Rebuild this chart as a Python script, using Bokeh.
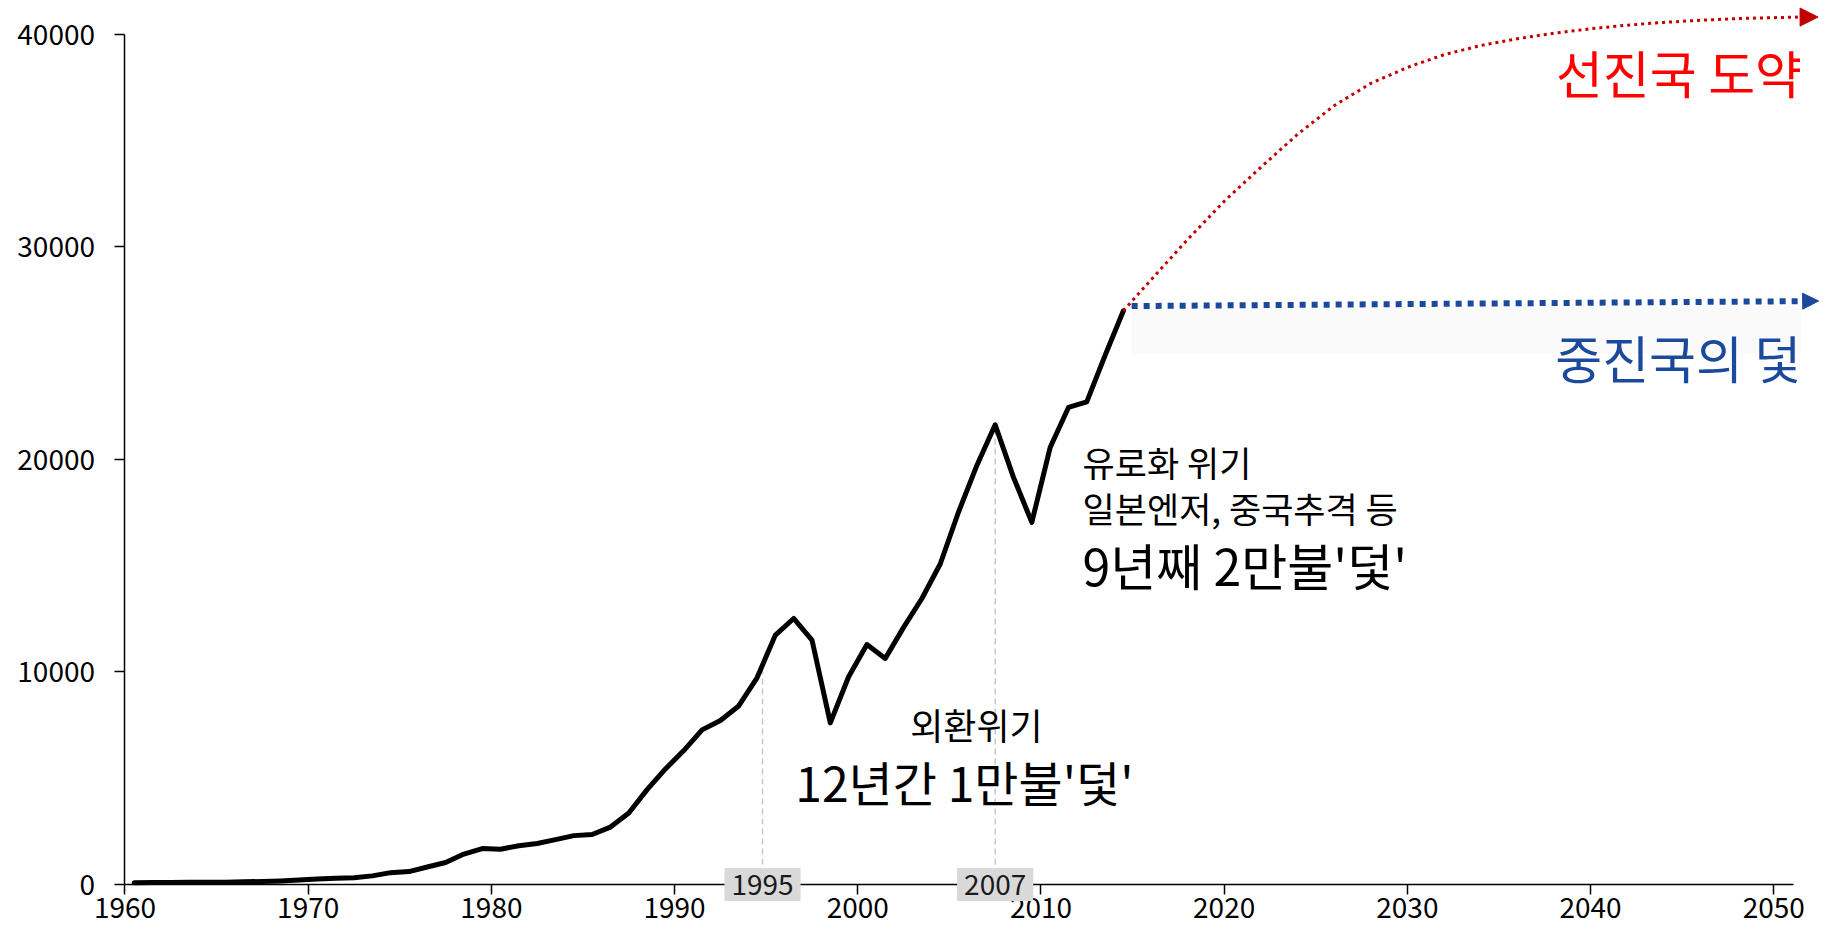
import numpy as np
from bokeh.plotting import figure
from bokeh.models import Label, Arrow, NormalHead, FixedTicker, Range1d, BoxAnnotation
from bokeh.embed import file_html
from bokeh.resources import INLINE

# ---------------- data ----------------
years = list(range(1960, 2015))
gni_per_capita = [79, 93, 91, 100, 103, 105, 125, 142, 169, 210,
                  254, 291, 322, 406, 557, 608, 824, 1034, 1431, 1693,
                  1660, 1826, 1927, 2113, 2300, 2355, 2702, 3367, 4465, 5438,
                  6303, 7276, 7714, 8402, 9727, 11735, 12518, 11505, 7607, 9778,
                  11292, 10631, 12100, 13460, 15082, 17531, 19722, 21632, 19161, 17041,
                  20562, 22451, 22708, 24900, 27000]

# scenario: advanced economy
adv_years = [2014.5, 2016, 2018, 2020, 2022, 2024, 2026, 2028, 2030, 2032,
             2034, 2036, 2038, 2040, 2042, 2044, 2046, 2048, 2051.4]
adv_values = [27000, 28450, 30350, 32150, 33750, 35300, 36650, 37700, 38450, 39050,
              39480, 39800, 40060, 40270, 40440, 40570, 40670, 40750, 40820]
adv_tip = (2052.42, 40820)

# scenario: middle-income trap
trap_years = [2014.95, 2051.5]
trap_values = [27220, 27450]
trap_tip = (2052.45, 27460)

crisis_labels = ["1995", "2007"]
crisis_x = [1994.8, 2007.5]

x_ticks = [1960, 1970, 1980, 1990, 2000, 2010, 2020, 2030, 2040, 2050]
y_ticks = [0, 10000, 20000, 30000, 40000]

FONT = "Noto Sans CJK KR"

# ---------------- figure ----------------
p = figure(width=1824, height=936,
           x_range=Range1d(1953.204, 2052.77), y_range=Range1d(-2259, 41600),
           output_backend="svg", toolbar_location=None,
           min_border=0, min_border_left=0, min_border_bottom=4,
           min_border_top=0, min_border_right=0)
p.outline_line_color = None
p.xgrid.visible = False
p.ygrid.visible = False
p.background_fill_color = "white"
p.border_fill_color = "white"

for ax in (p.xaxis, p.yaxis):
    ax.axis_line_color = "black"
    ax.axis_line_width = 1.5
    ax.major_tick_line_color = "black"
    ax.major_tick_line_width = 1.5
    ax.major_tick_out = 10
    ax.major_tick_in = 0
    ax.minor_tick_line_color = None
    ax.major_label_text_font = FONT
    ax.major_label_text_font_size = "28px"
    ax.major_label_text_color = "black"

p.xaxis.ticker = FixedTicker(ticks=x_ticks)
p.yaxis.ticker = FixedTicker(ticks=y_ticks)
p.xaxis.bounds = (1960, 2051.1)
p.yaxis.bounds = (0, 40000)
p.xaxis.fixed_location = 0
p.yaxis.fixed_location = 1960
p.xaxis.major_label_standoff = 3
p.yaxis.major_label_standoff = 20

# faint box behind the trap label
p.add_layout(BoxAnnotation(left=trap_years[0], right=trap_years[-1], bottom=25000, top=27250,
                           fill_color="#FAFAFA", fill_alpha=1, line_color=None, level="underlay"))

x_mid = np.array(years) + 0.5
vals = np.array(gni_per_capita, dtype=float)
tops = np.interp(crisis_x, x_mid, vals)

# dashed markers
p.segment(x0=crisis_x, y0=[0] * len(crisis_x), x1=crisis_x, y1=tops,
          line_color="#C8C8C8", line_width=1.5, line_dash="6 4")

# history line
p.line(x_mid, vals, line_color="black", line_width=5, line_join="round", line_cap="round")

# projections
p.line(adv_years, adv_values, line_color="#C00000", line_width=3, line_dash="3 4")
p.add_layout(Arrow(end=NormalHead(size=18, fill_color="#C00000", line_color="#C00000", line_width=1),
                   x_start=adv_years[-1], y_start=adv_values[-1],
                   x_end=adv_tip[0], y_end=adv_tip[1], line_color=None))

p.line(trap_years, trap_values, line_color="#1B4A9C", line_width=6, line_dash="6 6")
p.add_layout(Arrow(end=NormalHead(size=16, fill_color="#1B4A9C", line_color="#1B4A9C", line_width=1),
                   x_start=trap_years[-1], y_start=trap_values[-1],
                   x_end=trap_tip[0], y_end=trap_tip[1], line_color=None))

# year boxes on axis
for lab, xx in zip(crisis_labels, crisis_x):
    p.add_layout(Label(x=xx, y=0, text=lab, text_align="center", text_baseline="middle",
                       text_font=FONT, text_font_size="28px", text_color="#1a1a1a",
                       background_fill_color="#D9D9D9", background_fill_alpha=1,
                       padding=dict(left=7, right=7, top=6, bottom=6)))

def lab(x, y, text, size, color="black", align="left"):
    p.add_layout(Label(x=x, y=y, text=text, text_align=align, text_baseline="middle",
                       text_font=FONT, text_font_size=size, text_color=color))

lab(2051.54, 38240, "선진국 도약", "51px", "#FF0000", "right")
lab(2051.5, 24800, "중진국의 덫", "51px", "#1B4A9C", "right")
lab(2006.48, 7530, "외환위기", "36px", "black", "center")
lab(2005.82, 4890, "12년간 1만불'덫'", "48px", "black", "center")
lab(2012.27, 19900, "유로화 위기", "35px")
lab(2012.27, 17740, "일본엔저, 중국추격 등", "35px")
lab(2012.27, 15100, "9년째 2만불'덫'", "50px")

open("out.html", "w").write(file_html(p, INLINE))
